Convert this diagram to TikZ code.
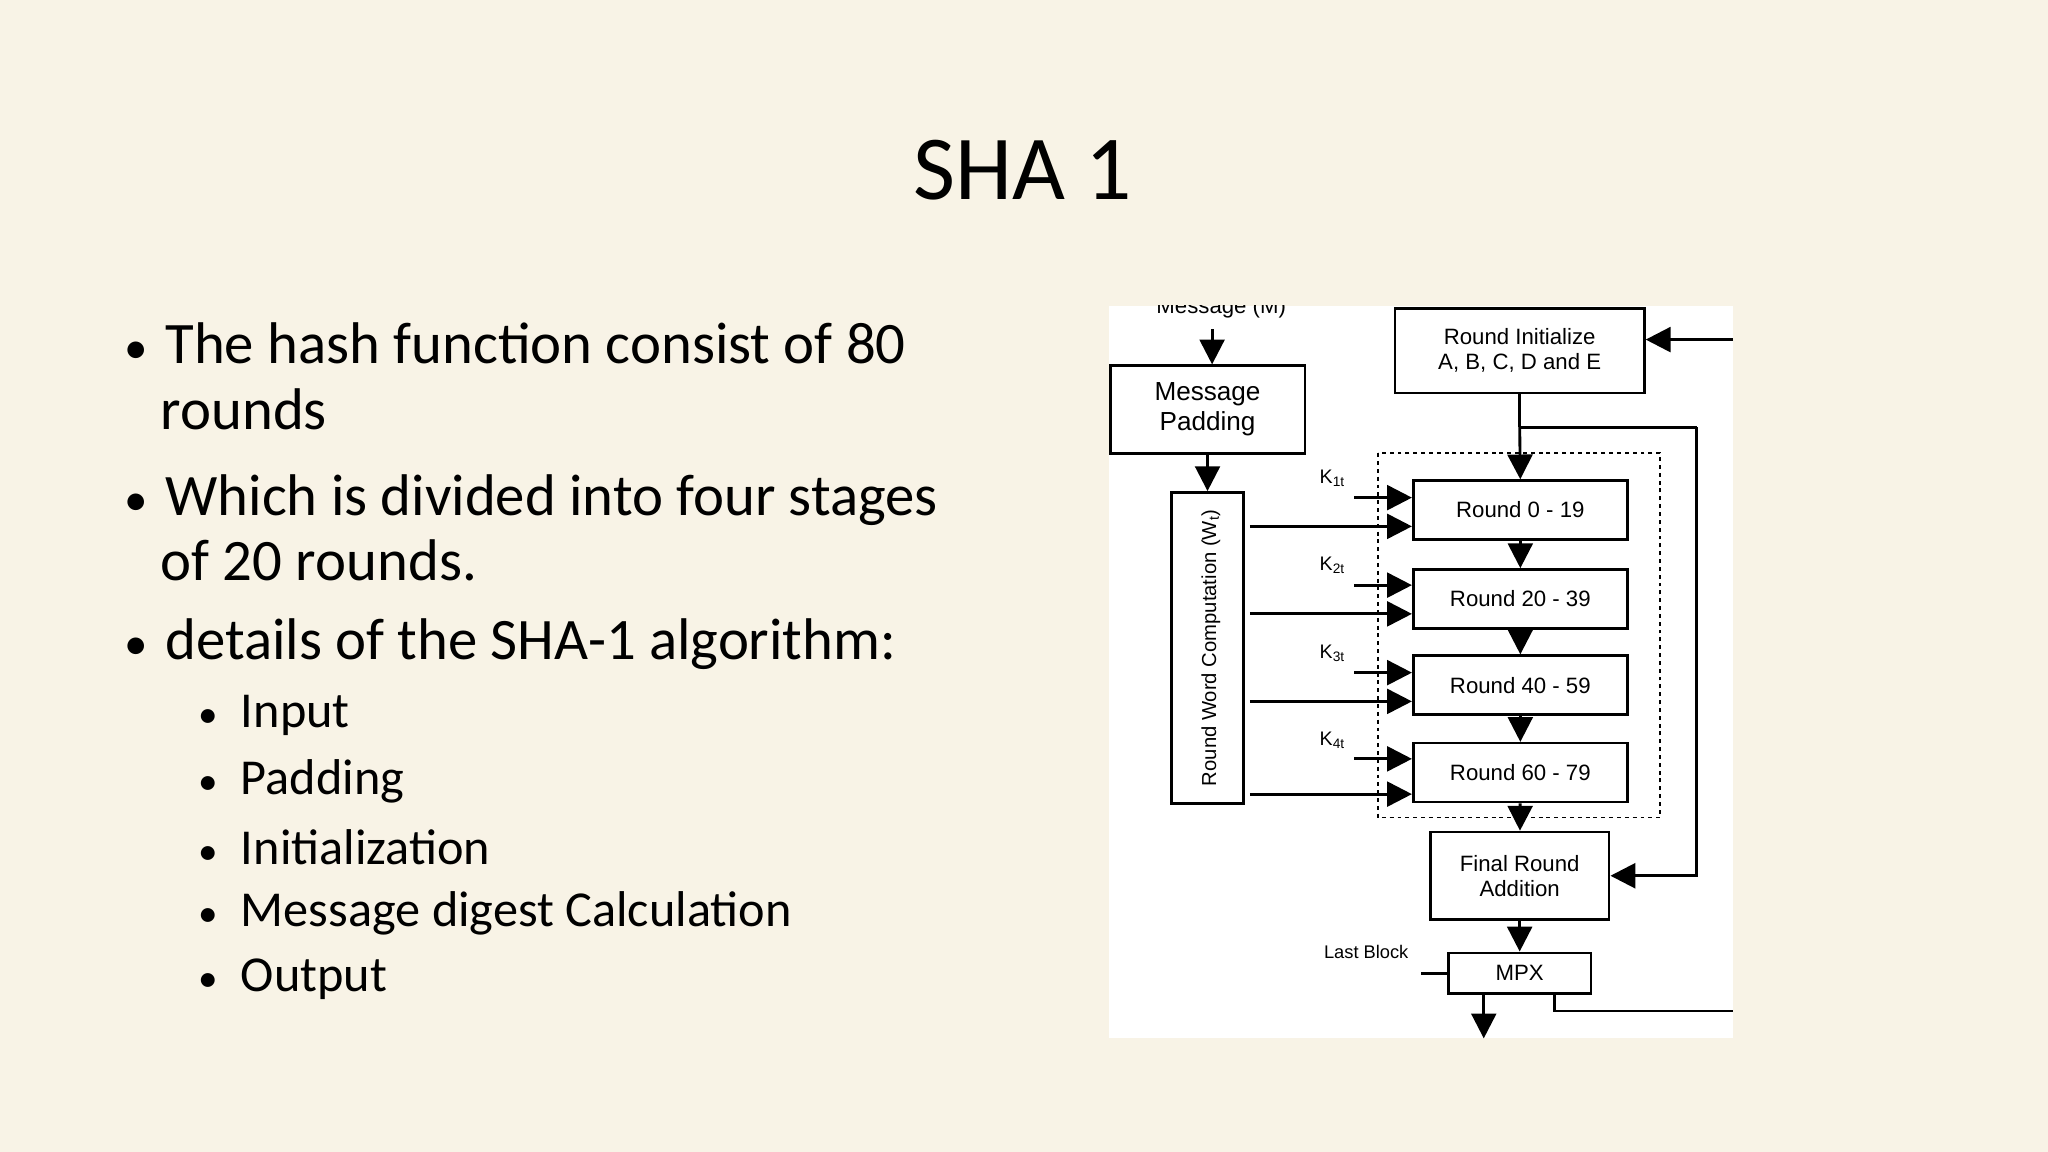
\documentclass[tikz,border=0pt]{standalone}
\usepackage{fontspec}
\setmainfont{Carlito}
\newfontfamily\diag{Liberation Sans}
\usetikzlibrary{arrows.meta}
\begin{document}
\begin{tikzpicture}[x=1pt,y=-1pt,
  bx/.style={draw,line width=2pt,inner sep=0pt,font=\diag\fontsize{17}{19}\selectfont,align=center},
  ar/.style={line width=2.2pt,-{Triangle[length=19pt,width=19pt]}},
  ln/.style={line width=2.2pt},
  bul/.style={anchor=west,inner sep=0pt,font=\fontsize{45}{50}\selectfont,align=left},
  sbul/.style={anchor=west,inner sep=0pt,font=\fontsize{38.5}{44}\selectfont}]
\fill[fill={rgb,255:red,248;green,243;blue,230}] (0,0) rectangle (1568,882);
\useasboundingbox (0,0) rectangle (1568,882);
\node[font=\fontsize{70}{80}\selectfont] (title) at (783,130) {SHA 1};
\node[bul] (b1) at (95,288) {{\fontsize{36}{40}\selectfont\textbullet}\hspace{0.3em}The hash function consist of 80\\\hspace{0.62em}rounds};
\node[bul] (b2) at (95,404) {{\fontsize{36}{40}\selectfont\textbullet}\hspace{0.3em}Which is divided into four stages\\\hspace{0.62em}of 20 rounds.};
\node[bul] (b3) at (95,493) {{\fontsize{36}{40}\selectfont\textbullet}\hspace{0.3em}details of the SHA-1 algorithm:};
\foreach \t/\y [count=\i] in {Input/548,Padding/598,Initialization/649,Message digest Calculation/699,Output/750}
  \node[sbul] (s\i) at (152,\y) {{\fontsize{30}{34}\selectfont\textbullet}\hspace{0.45em}\t};
% diagram
\fill[white] (849,234) rectangle (1327,795);
\begin{scope}
\clip (849,234) rectangle (1327,795);
\node[font=\diag\fontsize{17}{19}\selectfont] (msg) at (935,236) {Message (M)};
\node[bx,minimum width=149pt,minimum height=67pt,font=\diag\fontsize{20}{23}\selectfont] (pad) at (924.5,313.5) {Message\\Padding};
\node[bx,minimum width=55pt,minimum height=238pt] (rwc) at (924.5,496) {};
\node[rotate=90,font=\diag\fontsize{15.5}{17}\selectfont] (rwct) at (927,496) {Round Word Computation (W\textsubscript{t})};
\node[bx,minimum width=191pt,minimum height=65pt] (init) at (1163.5,268.5) {Round Initialize\\A, B, C, D and E};
\draw[dashed,line width=1.2pt] (1055,347) rectangle (1271,626);
\foreach \y/\t [count=\i] in {390.5/Round 0 - 19,458.5/Round 20 - 39,524.5/Round 40 - 59,591.5/Round 60 - 79}
  \node[bx,minimum width=164pt,minimum height=45pt] (r\i) at (1164,\y) {\t};
\node[bx,minimum width=137pt,minimum height=67pt] (fin) at (1163.5,670.5) {Final Round\\Addition};
\node[bx,minimum width=109pt,minimum height=31pt] (mpx) at (1163.5,745) {MPX};
\node[font=\diag\fontsize{14}{16}\selectfont] (lb) at (1046,729) {Last Block};
\coordinate (mtop) at (928,252);
\draw[ar] (mtop) -- (pad.north -| mtop);
\draw[ar] (pad.south -| rwc) -- (rwc.north);
\coordinate (rin) at (1327,260);
\draw[ar] (rin) -- (init.east |- rin);
\coordinate (br) at (1163.5,327);
\coordinate (brr) at (1299,327);
\draw[ln] (init.south) -- (br);
\draw[ar] (br) -- (r1.north);
\draw[ln] (br) -- (brr);
\draw[ar] (brr) |- (fin.east);
\draw[ar] (r1) -- (r2);
\draw[ar] (r2) -- (r3);
\draw[ar] (r3) -- (r4);
\draw[ar] (r4) -- (fin);
\draw[ar] (fin) -- (mpx);
\foreach \i/\ky/\wy/\ly in {1/381/403/366,2/448/470/433,3/515/537/500,4/581/608/567}{
  \coordinate (k\i) at (1037,\ky);
  \coordinate (w\i) at (957,\wy);
  \draw[ar] (k\i) -- (k\i -| r\i.west);
  \draw[ar] (w\i) -- (w\i -| r\i.west);
  \node[font=\diag\fontsize{15}{17}\selectfont] (kl\i) at (1020,\ly) {K\textsubscript{\i t}};
}
\coordinate (lbs) at (1088,745);
\draw[ln] (lbs) -- (mpx.west);
\coordinate (outb) at (1136,795);
\draw[ar] (mpx.south -| outb) -- (outb);
\coordinate (fbx) at (1190,774);
\coordinate (fbe) at (1327,774);
\draw[ln] (mpx.south -| fbx) -- (fbx) -- (fbe);
\end{scope}
\end{tikzpicture}
\end{document}
